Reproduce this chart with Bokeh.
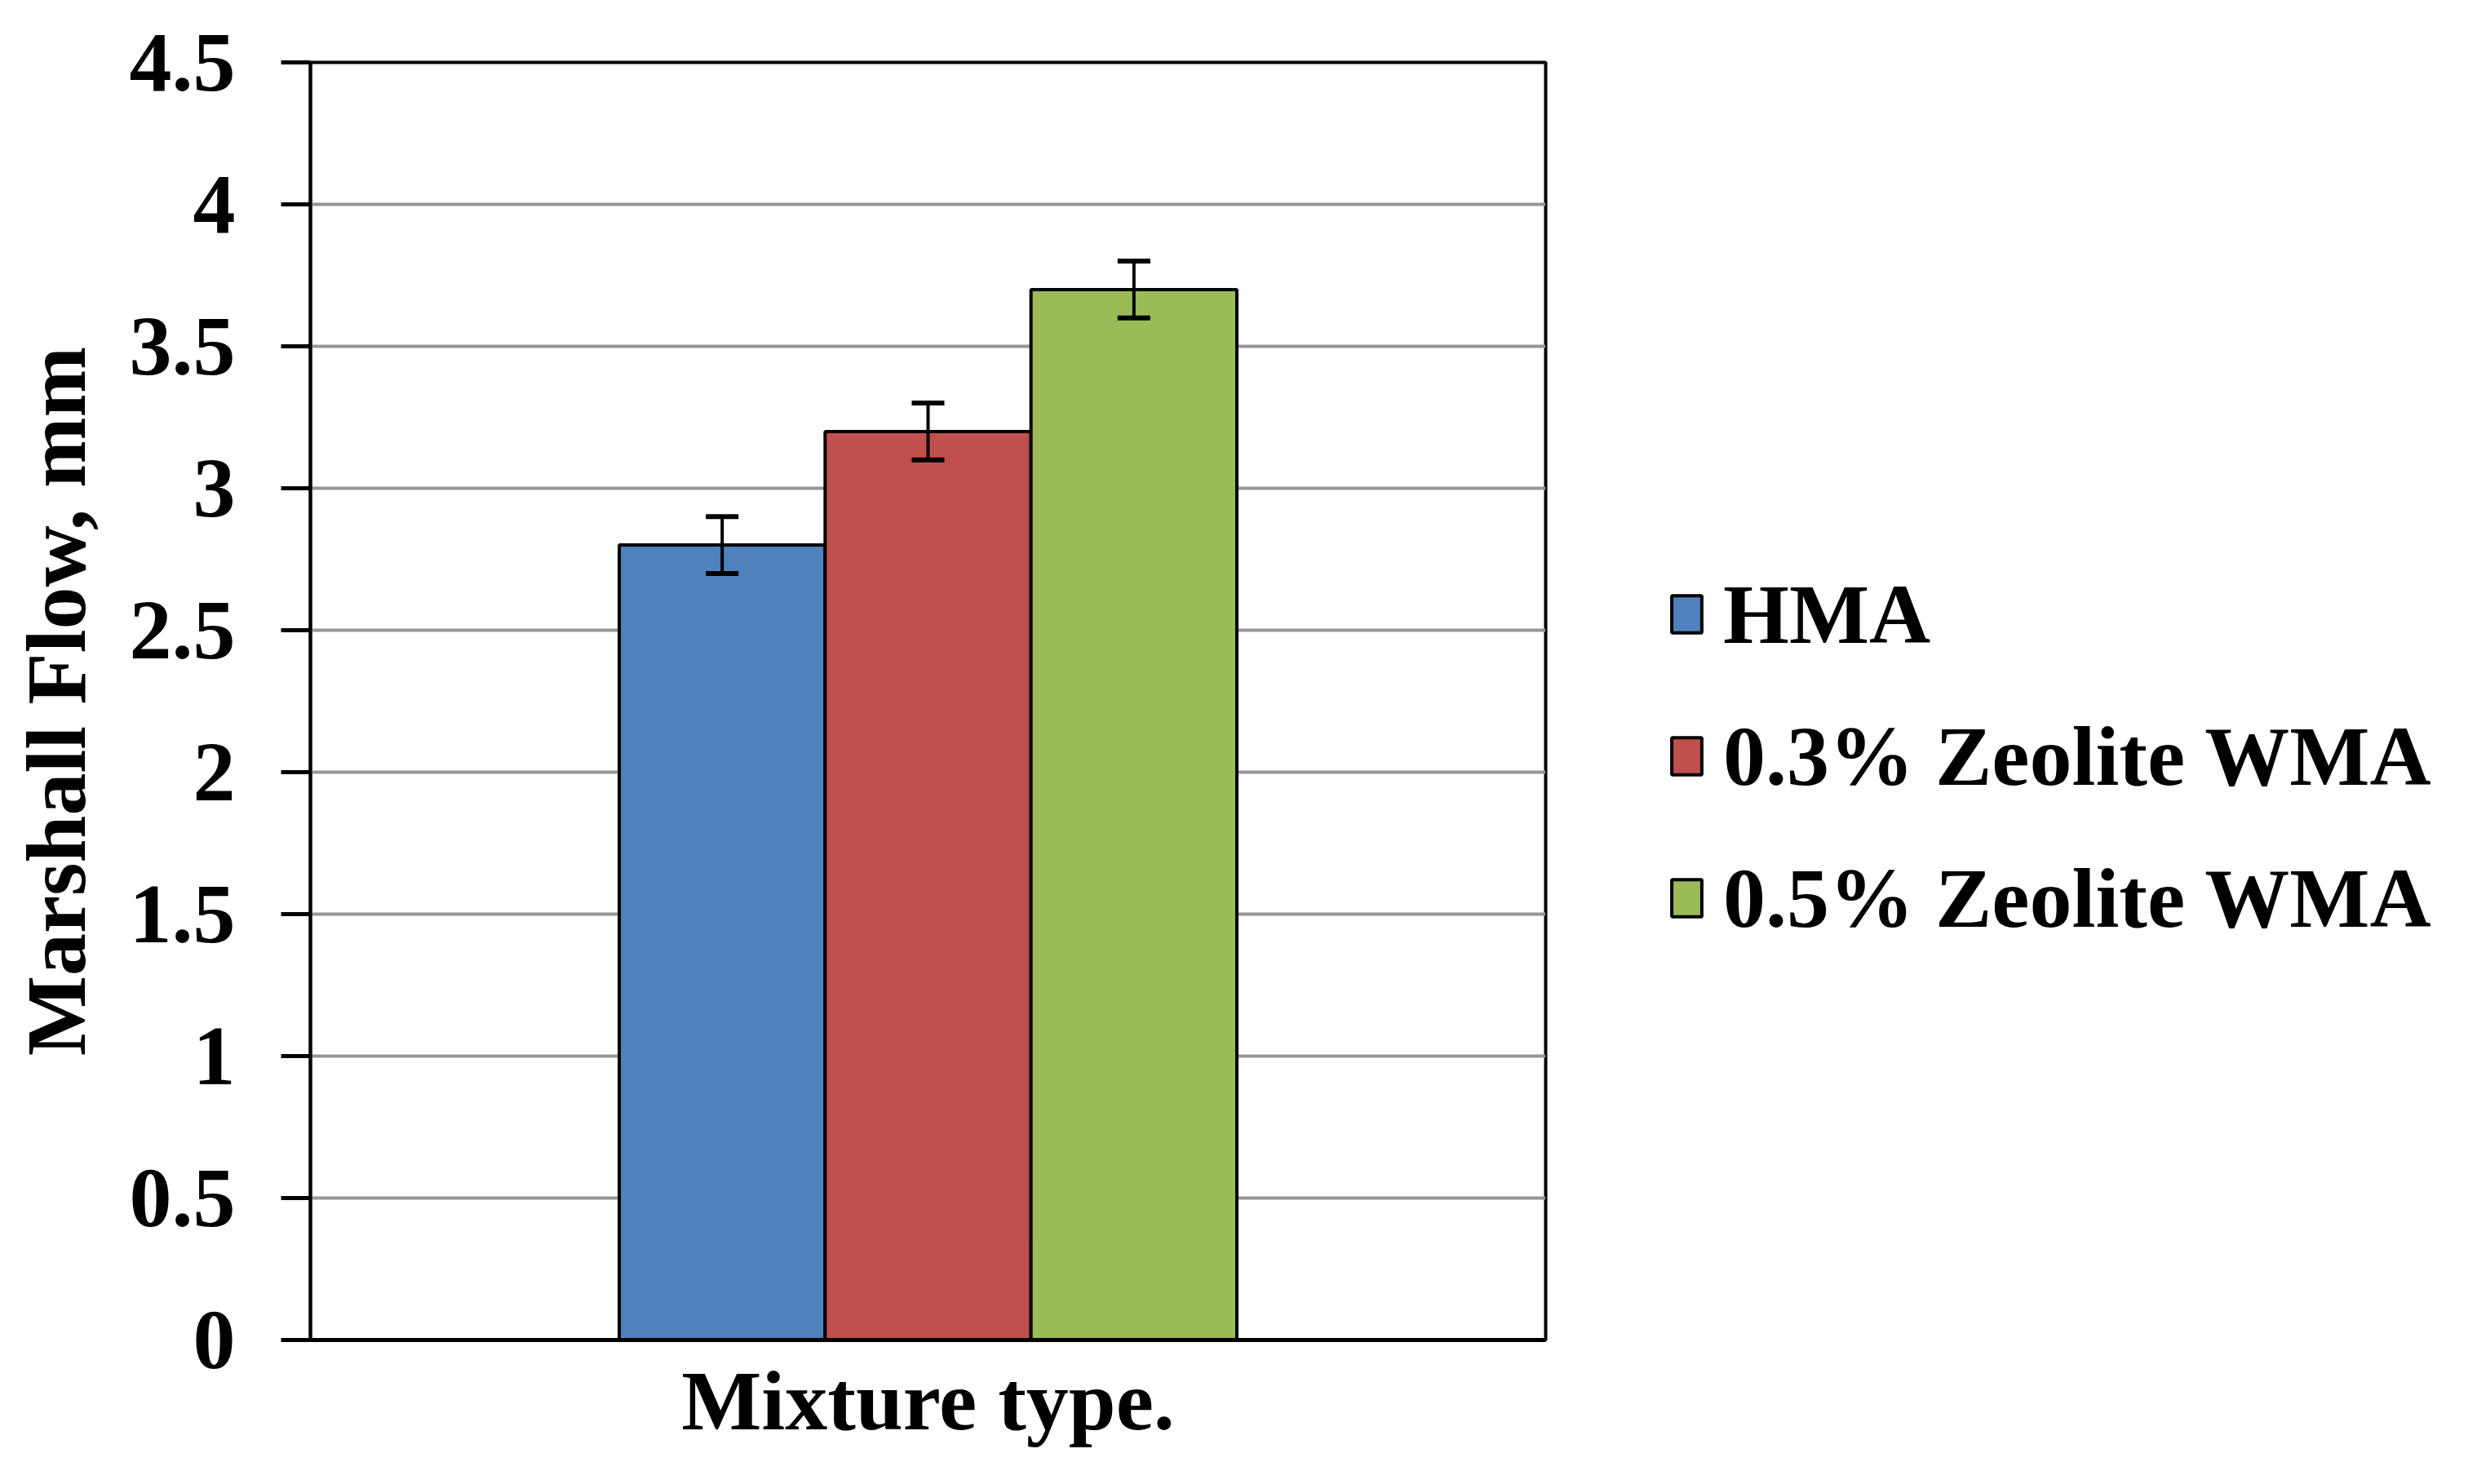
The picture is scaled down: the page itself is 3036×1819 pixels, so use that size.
from bokeh.plotting import figure
from bokeh.models import (FactorRange, Range1d, ColumnDataSource, Whisker, TeeHead,
                          Legend, LegendItem, CustomJSTickFormatter, FixedTicker)
from bokeh.embed import file_html
from bokeh.resources import INLINE

# ---- data ----
series = ["HMA", "0.3% Zeolite WMA", "0.5% Zeolite WMA"]
flow_mm = [2.8, 3.2, 3.7]
flow_err = [0.1, 0.1, 0.1]
colors = ["#4F81BD", "#C0504D", "#9BBB59"]
y_ticks = [0, 0.5, 1, 1.5, 2, 2.5, 3, 3.5, 4, 4.5]
x_title = "Mixture type."
y_title = "Marshall Flow, mm"

FONT = "Liberation Serif"
FS = "104px"

src = ColumnDataSource(dict(
    x=series, top=flow_mm, color=colors,
    upper=[v + e for v, e in zip(flow_mm, flow_err)],
    lower=[v - e for v, e in zip(flow_mm, flow_err)],
))

p = figure(
    x_range=FactorRange(factors=series, range_padding=1.5, range_padding_units="absolute"),
    y_range=Range1d(0, 4.5),
    frame_width=1514, frame_height=1566,
    min_border_left=380, min_border_right=1126, min_border_top=76, min_border_bottom=158,
    output_backend="svg", toolbar_location=None,
)
p.background_fill_color = "white"
p.border_fill_color = "white"
p.outline_line_color = "black"
p.outline_line_width = 4

r = p.vbar(x="x", top="top", width=1.0, bottom=0, fill_color="color",
           line_color="black", line_width=4, source=src)

w = Whisker(base="x", upper="upper", lower="lower", source=src, level="overlay",
            line_color="black", line_width=4,
            upper_head=TeeHead(size=40, line_color="black", line_width=6),
            lower_head=TeeHead(size=40, line_color="black", line_width=6))
p.add_layout(w)

# grid
p.xgrid.grid_line_color = None
p.ygrid.grid_line_color = "#969696"
p.ygrid.grid_line_width = 4
p.ygrid.ticker = FixedTicker(ticks=y_ticks)

# y axis
ya = p.yaxis[0]
ya.ticker = FixedTicker(ticks=y_ticks)
ya.formatter = CustomJSTickFormatter(code="return String(tick);")
ya.axis_line_color = "black"
ya.axis_line_width = 4
ya.major_tick_line_color = "black"
ya.major_tick_line_width = 5
ya.major_tick_out = 36
ya.major_tick_in = 0
ya.minor_tick_line_color = None
ya.major_label_standoff = 56
ya.major_label_text_font = FONT
ya.major_label_text_font_style = "bold"
ya.major_label_text_font_size = FS
ya.major_label_text_color = "black"
ya.axis_label = y_title
ya.axis_label_text_font = FONT
ya.axis_label_text_font_style = "bold"
ya.axis_label_text_font_size = FS
ya.axis_label_text_color = "black"
ya.axis_label_standoff = 30

# x axis
xa = p.xaxis[0]
xa.axis_line_color = "black"
xa.axis_line_width = 5
xa.major_tick_line_color = None
xa.major_tick_out = 0
xa.major_tick_in = 0
xa.minor_tick_line_color = None
xa.major_label_text_font_size = "2px"
xa.major_label_text_color = None
xa.major_label_standoff = 0
xa.axis_label = x_title
xa.axis_label_text_font = FONT
xa.axis_label_text_font_style = "bold"
xa.axis_label_text_font_size = FS
xa.axis_label_text_color = "black"
xa.axis_label_standoff = 16

# legend
items = [LegendItem(label=s, renderers=[r], index=i) for i, s in enumerate(series)]
legend = Legend(items=items, location=(150, 482),
                glyph_width=46, glyph_height=57,
                label_text_font=FONT, label_text_font_style="bold",
                label_text_font_size=FS, label_text_color="black",
                label_standoff=22, spacing=55, padding=0, margin=0,
                border_line_color=None, background_fill_alpha=0)
p.add_layout(legend, "right")

open("out.html", "w").write(file_html(p, INLINE))
